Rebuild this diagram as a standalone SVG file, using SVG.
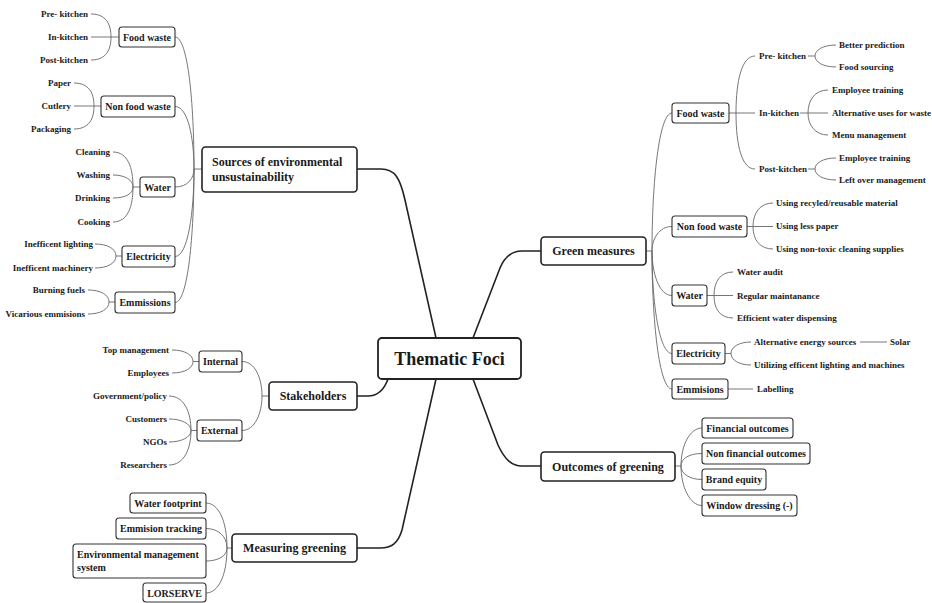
<svg xmlns="http://www.w3.org/2000/svg" width="932" height="603" viewBox="0 0 932 603">
<style>
text{font-family:"Liberation Serif","Times New Roman",serif;font-weight:bold;fill:#1a1a1a}
.t18{font-size:18px}
.t12{font-size:12px}
.t10{font-size:10px}
.t9{font-size:9px}
.c{text-anchor:middle}
.e{text-anchor:end}
.main{fill:#fff;stroke:#222;stroke-width:1.8}
.l1{fill:#fff;stroke:#222;stroke-width:1.6}
.l2{fill:#fff;stroke:#333;stroke-width:1.1}
.cm{fill:none;stroke:#222;stroke-width:1.6}
.cs{fill:none;stroke:#666;stroke-width:0.9}
</style>
<rect width="932" height="603" fill="#fff"/>
<g id="connectors">
<path class="cm" d="M357,169 H381 C395,169 400,178 405,200 L436,338"/>
<path class="cm" d="M473,338 L500,268 C505,256 512,251 522,251 H541"/>
<path class="cm" d="M357,396 H368 C378,396 384,390 388,379"/>
<path class="cm" d="M436,379 L402,530 C398,543 392,548 380,548 H357"/>
<path class="cm" d="M473,379 L498,445 C505,460 512,466 522,466 H541"/>
<path class="cs" d="M202,169 H194"/>
<path class="cs" d="M175,37 C188,37 194,103 194,169"/>
<path class="cs" d="M175,106.5 C188,106.5 194,138 194,169"/>
<path class="cs" d="M175,187 C188,187 194,178 194,169"/>
<path class="cs" d="M175,256.5 C188,256.5 194,212 194,169"/>
<path class="cs" d="M175,302.5 C188,302.5 194,235 194,169"/>
<path class="cs" d="M119,37 H111 M91,14 C106,14 111,24 111,37 M91,37 H111 M91,60 C106,60 111,50 111,37"/>
<path class="cs" d="M101,106 H94 M74,83 C89,83 94,93 94,106 M74,106 H94 M74,129 C89,129 94,119 94,106"/>
<path class="cs" d="M140,187 H133 M113,152 C128,152 133,168 133,187 M113,175 C125,175 133,180 133,187 M113,198 C125,198 133,194 133,187 M113,222 C128,222 133,206 133,187"/>
<path class="cs" d="M122,256 H116 M95,244 C108,244 116,249 116,256 M95,268 C108,268 116,263 116,256"/>
<path class="cs" d="M115,302 H109 M88,290 C101,290 109,295 109,302 M88,314 C101,314 109,309 109,302"/>
<path class="cs" d="M269,396 H262 M242,361.5 C255,361.5 262,378 262,396 M242,430.5 C255,430.5 262,413 262,396"/>
<path class="cs" d="M199,361.5 H193 M172,350 C185,350 193,355 193,361.5 M172,373 C185,373 193,368 193,361.5"/>
<path class="cs" d="M197,430.5 H191 M169,396 C184,396 191,412 191,430.5 M169,419 C182,419 191,424 191,430.5 M169,442 C182,442 191,437 191,430.5 M169,465 C184,465 191,449 191,430.5"/>
<path class="cs" d="M232,548 H227 M206,503 C218,503 227,520 227,548 M206,528.5 C218,528.5 227,536 227,548 M206,561 C218,561 227,556 227,548 M206,593 C218,593 227,576 227,548"/>
<path class="cs" d="M646,251 H652 M672,113 C659,113 652,182 652,251 M672,226.5 C659,226.5 652,239 652,251 M672,295.5 C659,295.5 652,273 652,251 M672,353.5 C659,353.5 652,302 652,251 M672,389 C659,389 652,320 652,251"/>
<path class="cs" d="M729,113 H755 M755,56 C742,56 736,80 736,113 M755,169 C742,169 736,146 736,113"/>
<path class="cs" d="M808,56 H815 M836,45 C823,45 815,50 815,56 M836,67 C823,67 815,62 815,56"/>
<path class="cs" d="M800,113 H828 M828,90 C815,90 808,100 808,113 M828,135 C815,135 808,125 808,113"/>
<path class="cs" d="M808,169 H815 M836,158 C823,158 815,163 815,169 M836,180 C823,180 815,175 815,169"/>
<path class="cs" d="M747,226.5 H773 M773,203 C760,203 753,213 753,226.5 M773,249 C760,249 753,240 753,226.5"/>
<path class="cs" d="M707,295.5 H733 M733,272 C720,272 714,282 714,295.5 M733,318 C720,318 714,309 714,295.5"/>
<path class="cs" d="M725,353.5 H731 M751,342 C739,342 731,347 731,353.5 M751,365 C739,365 731,360 731,353.5 M860,342 H887"/>
<path class="cs" d="M728,389 H753"/>
<path class="cs" d="M675,466 H681 M702,428 C690,428 681,445 681,466 M702,453.5 C690,453.5 681,458 681,466 M702,479.5 C690,479.5 681,474 681,466 M702,505.5 C690,505.5 681,487 681,466"/>
</g>
<g id="thematic-foci"><rect class="main" x="378" y="338" width="143" height="41" rx="4"/><text class="t18 c" x="449.5" y="364.5">Thematic Foci</text></g>
<g id="sources"><rect class="l1" x="202" y="147" width="155" height="45" rx="3.5"/><text class="t12" x="212" y="166">Sources of environmental</text><text class="t12" x="212" y="181">unsustainability</text></g>
<g id="src-food-waste"><rect class="l2" x="119" y="27" width="56" height="20" rx="3"/><text class="t10 c" x="147" y="40.5">Food waste</text></g>
<g id="src-non-food-waste"><rect class="l2" x="101" y="96" width="74" height="21" rx="3"/><text class="t10 c" x="138" y="110">Non food waste</text></g>
<g id="src-water"><rect class="l2" x="140" y="177" width="35" height="20" rx="3"/><text class="t10 c" x="157.5" y="190.5">Water</text></g>
<g id="src-electricity"><rect class="l2" x="122" y="246" width="53" height="21" rx="3"/><text class="t10 c" x="148.5" y="260">Electricity</text></g>
<g id="src-emmissions"><rect class="l2" x="115" y="292" width="60" height="21" rx="3"/><text class="t10 c" x="145" y="306">Emmissions</text></g>
<g id="src-leaves">
<text class="t9 e" x="88" y="17">Pre- kitchen</text>
<text class="t9 e" x="88" y="40">In-kitchen</text>
<text class="t9 e" x="88" y="63">Post-kitchen</text>
<text class="t9 e" x="71" y="86">Paper</text>
<text class="t9 e" x="71" y="109">Cutlery</text>
<text class="t9 e" x="71" y="132">Packaging</text>
<text class="t9 e" x="110" y="155">Cleaning</text>
<text class="t9 e" x="110" y="178">Washing</text>
<text class="t9 e" x="110" y="201">Drinking</text>
<text class="t9 e" x="110" y="225">Cooking</text>
<text class="t9 e" x="93" y="247">Inefficent lighting</text>
<text class="t9 e" x="93" y="271">Inefficent machinery</text>
<text class="t9 e" x="85" y="293">Burning fuels</text>
<text class="t9 e" x="85" y="317">Vicarious emmisions</text>
</g>
<g id="stakeholders"><rect class="l1" x="269" y="382" width="88" height="28" rx="3.5"/><text class="t12 c" x="313" y="400">Stakeholders</text></g>
<g id="internal"><rect class="l2" x="199" y="351" width="43" height="21" rx="3"/><text class="t10 c" x="220.5" y="365">Internal</text></g>
<g id="external"><rect class="l2" x="197" y="420" width="45" height="21" rx="3"/><text class="t10 c" x="219.5" y="434">External</text></g>
<g id="stake-leaves">
<text class="t9 e" x="169" y="353">Top management</text>
<text class="t9 e" x="169" y="376">Employees</text>
<text class="t9 e" x="167" y="399">Government/policy</text>
<text class="t9 e" x="167" y="422">Customers</text>
<text class="t9 e" x="167" y="445">NGOs</text>
<text class="t9 e" x="167" y="468">Researchers</text>
</g>
<g id="measuring"><rect class="l1" x="232" y="534" width="125" height="28" rx="3.5"/><text class="t12 c" x="294.5" y="552">Measuring greening</text></g>
<g id="water-footprint"><rect class="l2" x="130" y="493" width="76" height="20" rx="3"/><text class="t10 c" x="168" y="506.5">Water footprint</text></g>
<g id="emmision-tracking"><rect class="l2" x="116" y="518" width="90" height="21" rx="3"/><text class="t10 c" x="161" y="532">Emmision tracking</text></g>
<g id="ems"><rect class="l2" x="73" y="544" width="133" height="34" rx="3"/><text class="t10" x="77" y="558">Environmental management</text><text class="t10" x="77" y="571">system</text></g>
<g id="lorserve"><rect class="l2" x="143" y="583" width="63" height="19" rx="3"/><text class="t10 c" x="174.5" y="596.5">LORSERVE</text></g>
<g id="green-measures"><rect class="l1" x="541" y="237" width="105" height="28" rx="3.5"/><text class="t12 c" x="593.5" y="255">Green measures</text></g>
<g id="gm-food-waste"><rect class="l2" x="672" y="103" width="57" height="20" rx="3"/><text class="t10 c" x="700.5" y="116.5">Food waste</text></g>
<g id="gm-non-food-waste"><rect class="l2" x="672" y="216" width="75" height="21" rx="3"/><text class="t10 c" x="709.5" y="230">Non food waste</text></g>
<g id="gm-water"><rect class="l2" x="672" y="285" width="35" height="21" rx="3"/><text class="t10 c" x="689.5" y="299">Water</text></g>
<g id="gm-electricity"><rect class="l2" x="672" y="343" width="53" height="21" rx="3"/><text class="t10 c" x="698.5" y="357">Electricity</text></g>
<g id="gm-emmisions"><rect class="l2" x="672" y="379" width="56" height="20" rx="3"/><text class="t10 c" x="700" y="392.5">Emmisions</text></g>
<g id="gm-leaves">
<text class="t9" x="759" y="59">Pre- kitchen</text>
<text class="t9" x="759" y="116">In-kitchen</text>
<text class="t9" x="759" y="172">Post-kitchen</text>
<text class="t9" x="839" y="48">Better prediction</text>
<text class="t9" x="839" y="70">Food sourcing</text>
<text class="t9" x="832" y="93">Employee training</text>
<text class="t9" x="832" y="116">Alternative uses for waste</text>
<text class="t9" x="832" y="138">Menu management</text>
<text class="t9" x="839" y="161">Employee training</text>
<text class="t9" x="839" y="183">Left over management</text>
<text class="t9" x="776" y="206">Using recyled/reusable material</text>
<text class="t9" x="776" y="229">Using less paper</text>
<text class="t9" x="776" y="252">Using non-toxic cleaning supplies</text>
<text class="t9" x="737" y="275">Water audit</text>
<text class="t9" x="737" y="298.5">Regular maintanance</text>
<text class="t9" x="737" y="321">Efficient water dispensing</text>
<text class="t9" x="754" y="345">Alternative energy sources</text>
<text class="t9" x="890" y="345">Solar</text>
<text class="t9" x="754" y="368">Utilizing efficent lighting and machines</text>
<text class="t9" x="757" y="392">Labelling</text>
</g>
<g id="outcomes"><rect class="l1" x="541" y="452" width="134" height="29" rx="3.5"/><text class="t12 c" x="608" y="470.5">Outcomes of greening</text></g>
<g id="financial"><rect class="l2" x="702" y="418" width="91" height="20" rx="3"/><text class="t10 c" x="747.5" y="431.5">Financial outcomes</text></g>
<g id="non-financial"><rect class="l2" x="702" y="443" width="108" height="21" rx="3"/><text class="t10 c" x="756" y="457">Non financial outcomes</text></g>
<g id="brand-equity"><rect class="l2" x="702" y="469" width="64" height="21" rx="3"/><text class="t10 c" x="734" y="483">Brand equity</text></g>
<g id="window-dressing"><rect class="l2" x="702" y="495" width="95" height="21" rx="3"/><text class="t10 c" x="749.5" y="509">Window dressing (-)</text></g>
</svg>
